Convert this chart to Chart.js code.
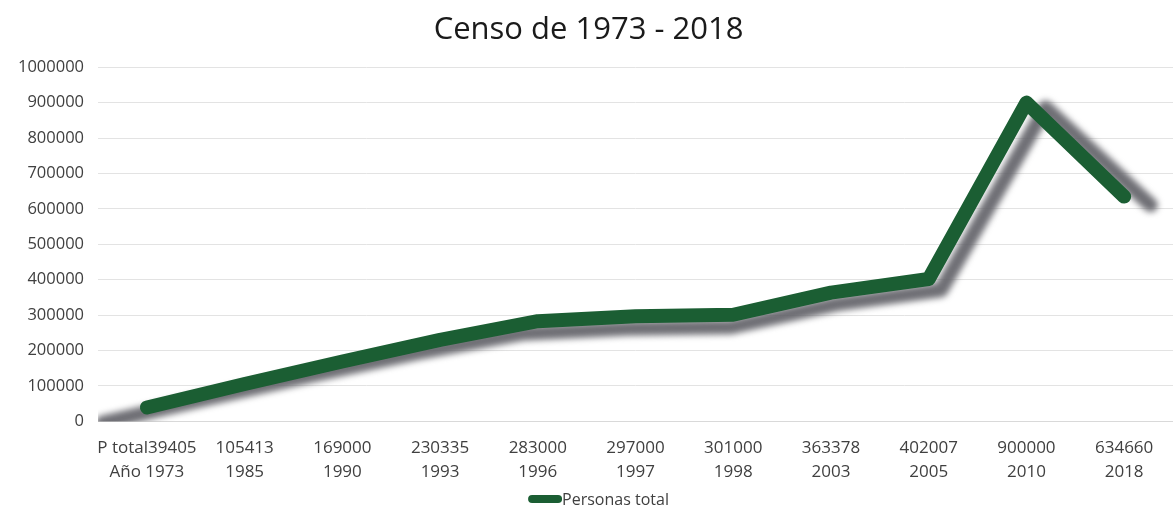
<!DOCTYPE html>
<html>
<head>
<meta charset="utf-8">
<script src="https://cdn.jsdelivr.net/npm/chart.js@4/dist/chart.umd.min.js"></script>
<style>
  html, body { margin: 0; padding: 0; background: #ffffff; }
  #wrap { width: 1173px; height: 511px; }
</style>
</head>
<body>
<div id="wrap"><canvas id="c" width="1173" height="511"></canvas></div>
<script>
const titleText = 'Censo de 1973 - 2018';
const seriesName = 'Personas total';
const labelTop = ['P total39405', '105413', '169000', '230335', '283000', '297000', '301000', '363378', '402007', '900000', '634660'];
const labelBottom = ['Año 1973', '1985', '1990', '1993', '1996', '1997', '1998', '2003', '2005', '2010', '2018'];
const personas = [39405, 105413, 169000, 230335, 283000, 297000, 301000, 363378, 402007, 900000, 634660];
const yTicks = [0, 100000, 200000, 300000, 400000, 500000, 600000, 700000, 800000, 900000, 1000000];

const FONT = '"Open Sans", "Liberation Sans", sans-serif';
const GREEN = '#1b5e33';

const categories = labelTop.map((t, i) => [t, labelBottom[i]]);

const perspectiveShadow = {
  id: 'perspectiveShadow',
  beforeDatasetDraw(chart, args) {
    const line = args.meta.dataset;
    if (!line) return;
    const ctx = chart.ctx;
    const a = chart.chartArea;
    const saved = line.options.borderColor;
    ctx.save();
    ctx.beginPath();
    ctx.rect(a.left, a.top - 30, a.right - a.left, a.bottom - a.top + 30);
    ctx.clip();
    ctx.transform(1.072, 0, 0, 1.033, -54.7, 1.8);
    ctx.filter = 'blur(3px)';
    line.options.borderColor = 'rgba(95,95,102,0.9)';
    line.draw(ctx, a);
    line.options.borderColor = saved;
    ctx.restore();
  }
};

const bottomLegend = {
  id: 'bottomLegend',
  afterDraw(chart) {
    const ctx = chart.ctx;
    const ds = chart.data.datasets[0];
    ctx.save();
    ctx.font = '16px ' + FONT;
    const tw = ctx.measureText(ds.label).width;
    const mw = 34, mh = 8;
    const total = mw + tw;
    const cy = chart.height - 12;
    const x0 = chart.width / 2 + 12 - total / 2;
    ctx.fillStyle = ds.borderColor;
    ctx.beginPath();
    ctx.roundRect(x0, cy - mh / 2, mw, mh, 4);
    ctx.fill();
    ctx.fillStyle = '#404040';
    ctx.textBaseline = 'middle';
    ctx.textAlign = 'left';
    ctx.fillText(ds.label, x0 + mw, cy + 1);
    ctx.restore();
  }
};

new Chart(document.getElementById('c'), {
  type: 'line',
  data: {
    labels: categories,
    datasets: [{
      label: seriesName,
      data: personas,
      borderColor: GREEN,
      backgroundColor: GREEN,
      borderWidth: 14,
      borderCapStyle: 'round',
      borderJoinStyle: 'round',
      pointRadius: 0,
      tension: 0,
      clip: false
    }]
  },
  options: {
    responsive: false,
    animation: false,
    devicePixelRatio: 1,
    layout: { padding: { left: 4, right: 0, top: 0, bottom: 12 } },
    plugins: {
      title: {
        display: true,
        text: titleText,
        color: '#1a1a1a',
        font: { family: FONT, size: 31, weight: 'normal', lineHeight: 1.2 },
        padding: { top: 12, bottom: 18 }
      },
      legend: { display: false },
      tooltip: { enabled: false }
    },
    scales: {
      x: {
        offset: true,
        grid: { display: false, drawTicks: false },
        border: { display: true, color: '#d9d9d9', width: 1 },
        ticks: {
          color: '#404040',
          font: { family: FONT, size: 17, lineHeight: 1.4 },
          maxRotation: 0,
          autoSkip: false,
          padding: 15
        }
      },
      y: {
        min: 0,
        max: 1000000,
        afterBuildTicks(scale) { scale.ticks = yTicks.map(v => ({ value: v })); },
        grid: { color: '#e3e3e3', drawTicks: false },
        border: { display: false },
        ticks: {
          color: '#404040',
          font: { family: FONT, size: 16.5 },
          padding: 14,
          callback: v => String(v)
        }
      }
    }
  },
  plugins: [perspectiveShadow, bottomLegend]
});
</script>
</body>
</html>
